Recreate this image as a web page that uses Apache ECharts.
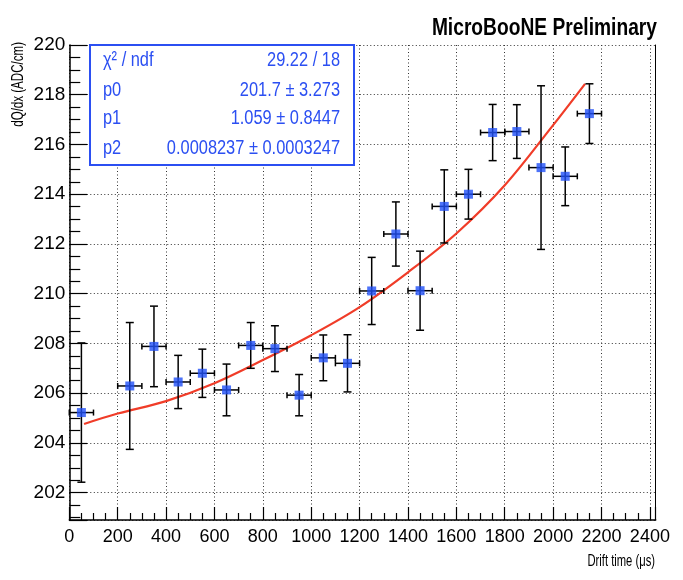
<!DOCTYPE html>
<html><head><meta charset="utf-8">
<script src="https://cdn.jsdelivr.net/npm/echarts@6/dist/echarts.min.js"></script>
<style>html,body{margin:0;padding:0;background:#fff}#c{width:683px;height:580px}</style>
</head><body><div id="c"></div>
<script>
// ---- data ----
const driftTime = [50, 250, 350, 450, 550, 650, 750, 850, 950, 1050, 1150, 1250, 1350, 1450, 1550, 1650, 1750, 1850, 1950, 2050, 2150];
const dqdx      = [205.22, 206.29, 207.88, 206.45, 206.8, 206.13, 207.92, 207.79, 205.92, 207.42, 207.2, 210.11, 212.4, 210.12, 213.51, 214.0, 216.48, 216.52, 215.07, 214.72, 217.24];
const dqdxErr   = [2.8, 2.55, 1.62, 1.07, 0.97, 1.04, 0.92, 0.92, 0.83, 0.92, 1.15, 1.35, 1.29, 1.59, 1.47, 1.0, 1.13, 1.08, 3.29, 1.18, 1.2];
const timeErr   = [50, 50, 50, 50, 50, 50, 50, 50, 50, 50, 50, 50, 50, 50, 50, 50, 50, 50, 50, 50, 50];
const fitTime   = [61, 200, 400, 600, 800, 1000, 1200, 1400, 1600, 1800, 2000, 2132];
const fitValue  = [204.76, 205.18, 205.68, 206.4, 207.33, 208.33, 209.46, 210.86, 212.42, 214.36, 216.78, 218.44];
const statsLabels = ['χ² / ndf', 'p0', 'p1', 'p2'];
const statsValues = ['29.22 / 18', '201.7 ± 3.273', '1.059 ± 0.8447', '0.0008237 ± 0.0003247'];
const titleText = 'MicroBooNE Preliminary';
const xName = 'Drift time (μs)';
const yName = 'dQ/dx (ADC/cm)';

const FONT = "'Liberation Sans', Arial, sans-serif";
const BLUE = '#2b4ff2';
const chart = echarts.init(document.getElementById('c'), null, {renderer: 'canvas'});

const errData = driftTime.map((t, i) => [t, dqdx[i], dqdxErr[i], timeErr[i]]);
const pts = driftTime.map((t, i) => [t, dqdx[i]]);
const fit = fitTime.map((t, i) => [t, fitValue[i]]);

const gridLine = {show: true, lineStyle: {color: '#333', width: 1, type: [1, 2.5]}};

const statsChildren = [{
  type: 'rect', z: 100, shape: {x: 90, y: 45, width: 264, height: 120},
  style: {fill: '#fff', stroke: BLUE, lineWidth: 2}
}];
const rowY = [60, 90, 118.5, 148];
statsLabels.forEach((s, i) => {
  statsChildren.push({type: 'text', z: 101, x: 103, y: rowY[i], scaleX: 0.82,
    style: {text: s, fill: BLUE, font: '20px ' + FONT, align: 'left', verticalAlign: 'middle'}});
  statsChildren.push({type: 'text', z: 101, x: 340, y: rowY[i], scaleX: 0.82,
    style: {text: statsValues[i], fill: BLUE, font: '20px ' + FONT, align: 'right', verticalAlign: 'middle'}});
});

const plain = v => String(Math.round(v * 100) / 100);

chart.setOption({
  animation: false,
  backgroundColor: '#fff',
  grid: {left: 69.3, right: 27.3, top: 45, bottom: 60, containLabel: false, outerBoundsMode: 'none'},
  xAxis: [{
    type: 'value', min: 0, max: 2424, interval: 200, position: 'bottom',
    axisLine: {show: true, onZero: false, lineStyle: {color: '#000', width: 1.5}},
    axisTick: {show: true, inside: true, length: 13, lineStyle: {color: '#000', width: 1.2}},
    minorTick: {show: true, splitNumber: 4, length: 7, lineStyle: {color: '#000', width: 1.2}},
    axisLabel: {show: true, margin: 8, fontFamily: FONT, fontSize: 18, color: '#000', showMaxLabel: false, formatter: plain},
    splitLine: gridLine
  }],
  yAxis: [{
    type: 'value', min: 200.9, max: 220, splitNumber: 10, position: 'left',
    axisLine: {show: true, onZero: false, lineStyle: {color: '#000', width: 1.5}},
    axisTick: {show: true, inside: true, length: 18, lineStyle: {color: '#000', width: 1.2}},
    minorTick: {show: true, splitNumber: 4, length: 11, lineStyle: {color: '#000', width: 1.2}},
    axisLabel: {show: true, margin: 4, fontFamily: FONT, fontSize: 19, color: '#000', showMinLabel: false, formatter: plain},
    splitLine: gridLine
  }, {
    type: 'value', min: 200.9, max: 220, position: 'right',
    axisLine: {show: true, onZero: false, lineStyle: {color: '#000', width: 1}},
    axisTick: {show: false}, axisLabel: {show: false}, splitLine: {show: false}
  }],
  graphic: [
    {type: 'text', x: 657, y: 28, scaleX: 0.8,
      style: {text: titleText, fill: '#000', font: 'bold 24px ' + FONT, align: 'right', verticalAlign: 'middle'}},
    {type: 'text', x: 18, y: 42, rotation: Math.PI / 2, scaleX: 0.68,
      style: {text: yName, fill: '#000', font: '17px ' + FONT, align: 'right', verticalAlign: 'middle'}},
    {type: 'text', x: 655, y: 561, scaleX: 0.66,
      style: {text: xName, fill: '#000', font: '17px ' + FONT, align: 'right', verticalAlign: 'middle'}},
    {type: 'group', z: 100, children: statsChildren}
  ],
  series: [{
    type: 'line', data: fit, smooth: 0.35, showSymbol: false, symbol: 'none',
    lineStyle: {color: '#f03c28', width: 2.2}, z: 3, silent: true
  }, {
    type: 'custom', data: errData, encode: {x: 0, y: 1}, z: 4, clip: false,
    renderItem: function (params, api) {
      const x = api.value(0), y = api.value(1), ey = api.value(2), ex = api.value(3);
      const top = api.coord([x, y + ey]), bot = api.coord([x, y - ey]);
      const lft = api.coord([x - ex, y]), rgt = api.coord([x + ex, y]);
      const st = {stroke: '#000', lineWidth: 1.5};
      const c = 4, h = 3;
      const L = (x1, y1, x2, y2) => ({type: 'line', shape: {x1, y1, x2, y2}, style: st});
      return {type: 'group', children: [
        L(top[0], top[1], bot[0], bot[1]),
        L(top[0] - c, top[1], top[0] + c, top[1]),
        L(bot[0] - c, bot[1], bot[0] + c, bot[1]),
        L(lft[0], lft[1], rgt[0], rgt[1]),
        L(lft[0], lft[1] - h, lft[0], lft[1] + h),
        L(rgt[0], rgt[1] - h, rgt[0], rgt[1] + h)
      ]};
    }
  }, {
    type: 'scatter', data: pts, symbol: 'rect', symbolSize: 9,
    itemStyle: {color: '#2150f7'}, z: 5
  }]
});
</script></body></html>
